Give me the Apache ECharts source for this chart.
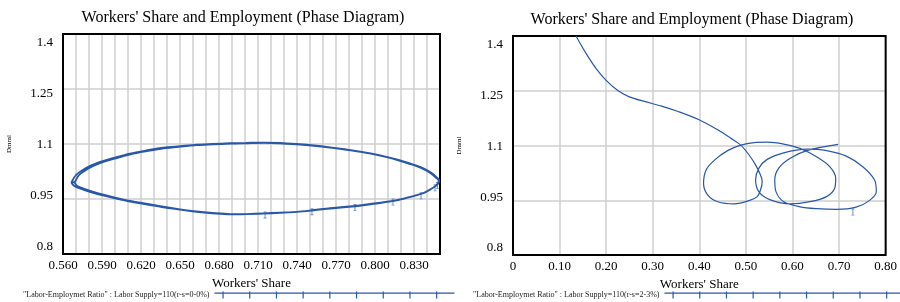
<!DOCTYPE html>
<html>
<head>
<meta charset="utf-8">
<title>Workers' Share and Employment (Phase Diagram)</title>
<script src="https://cdn.jsdelivr.net/npm/echarts@6/dist/echarts.min.js"></script>
<style>
    html, body { margin: 0; padding: 0; background: #fff; }
    #main { width: 900px; height: 302px; }
</style>
</head>
<body>
<div id="main"></div>
<script>
    var chartTitle = "Workers' Share and Employment (Phase Diagram)";
    var xName = "Workers' Share";
    var yName = 'Dmml';
    var nameA = '"Labor-Employmet Ratio" : Labor Supply=110(r-s=0-0%)';
    var nameB = '"Labor-Employmet Ratio" : Labor Supply=110(r-s=2-3%)';

    // tick labels
    var yTicks = ['0.8', '0.95', '1.1', '1.25', '1.4'];
    var xTicksA = ['0.560', '0.590', '0.620', '0.650', '0.680', '0.710', '0.740', '0.770', '0.800', '0.830'];
    var xTicksB = ['0', '0.10', '0.20', '0.30', '0.40', '0.50', '0.60', '0.70', '0.80'];

    // left chart: [workers' share, Dmml], two laps of the cycle
    var orbitLap1 = [
        [0.5665, 0.995], [0.5700, 1.015], [0.5780, 1.035], [0.5860, 1.048], [0.6000, 1.063],
        [0.6115, 1.074], [0.6250, 1.083], [0.6372, 1.090], [0.6500, 1.094], [0.6628, 1.098],
        [0.6750, 1.100], [0.6885, 1.102], [0.7010, 1.103], [0.7141, 1.104], [0.7270, 1.103],
        [0.7398, 1.100], [0.7530, 1.096], [0.7654, 1.091], [0.7780, 1.085], [0.7910, 1.078],
        [0.8040, 1.069], [0.8167, 1.058], [0.8270, 1.047], [0.8372, 1.034], [0.8430, 1.022],
        [0.8475, 1.009], [0.8495, 1.001], [0.8490, 0.995], [0.8475, 0.988], [0.8430, 0.977],
        [0.8372, 0.966], [0.8270, 0.956], [0.8167, 0.947], [0.8040, 0.940], [0.7910, 0.934],
        [0.7780, 0.929], [0.7654, 0.925], [0.7530, 0.920], [0.7398, 0.915], [0.7270, 0.913],
        [0.7141, 0.911], [0.7010, 0.909], [0.6885, 0.908], [0.6750, 0.911], [0.6628, 0.915],
        [0.6500, 0.921], [0.6372, 0.927], [0.6250, 0.935], [0.6115, 0.943], [0.6000, 0.952],
        [0.5859, 0.964], [0.5760, 0.975], [0.5690, 0.985], [0.5665, 0.995]
    ];
    var orbitLap2 = [
        [0.5688, 0.996], [0.5720, 1.014], [0.5795, 1.033], [0.5870, 1.046], [0.6005, 1.061],
        [0.6120, 1.072], [0.6255, 1.081], [0.6375, 1.088], [0.6505, 1.093], [0.6630, 1.097],
        [0.6755, 1.099], [0.6885, 1.101], [0.7010, 1.102], [0.7141, 1.103], [0.7270, 1.102],
        [0.7398, 1.099], [0.7530, 1.095], [0.7654, 1.090], [0.7780, 1.084], [0.7910, 1.077],
        [0.8040, 1.068], [0.8167, 1.057], [0.8265, 1.046], [0.8365, 1.033], [0.8425, 1.021],
        [0.8470, 1.008], [0.8490, 1.000], [0.8485, 0.994], [0.8470, 0.987], [0.8425, 0.976],
        [0.8365, 0.965], [0.8265, 0.955], [0.8167, 0.946], [0.8040, 0.939], [0.7910, 0.933],
        [0.7780, 0.928], [0.7654, 0.924], [0.7530, 0.919], [0.7398, 0.915], [0.7270, 0.912],
        [0.7141, 0.910], [0.7010, 0.909], [0.6885, 0.909], [0.6750, 0.912], [0.6628, 0.916],
        [0.6500, 0.922], [0.6372, 0.929], [0.6250, 0.937], [0.6115, 0.945], [0.6000, 0.954],
        [0.5865, 0.966], [0.5770, 0.977], [0.5705, 0.987], [0.5688, 0.996]
    ];
    var marksA = [
        [0.7154, 0.912], [0.7515, 0.921], [0.7846, 0.932], [0.8138, 0.947],
        [0.8354, 0.964], [0.8462, 0.986], [0.8480, 0.992]
    ];

    // right chart: [workers' share, Dmml]
    var pathB = [
        [0.1352, 1.400], [0.1565, 1.353], [0.1777, 1.312], [0.1989, 1.280], [0.2236, 1.252],
        [0.2484, 1.234], [0.2839, 1.220], [0.3191, 1.208], [0.3546, 1.193], [0.4006, 1.170],
        [0.4395, 1.143], [0.4677, 1.120], [0.4890, 1.101], [0.5068, 1.074], [0.5208, 1.047],
        [0.5314, 1.019], [0.5350, 1.001], [0.5314, 0.978], [0.5244, 0.960], [0.5068, 0.949],
        [0.4749, 0.940], [0.4395, 0.946], [0.4183, 0.964], [0.4091, 0.996], [0.4146, 1.033],
        [0.4325, 1.060], [0.4607, 1.086], [0.4890, 1.101], [0.5174, 1.108], [0.5456, 1.109],
        [0.5811, 1.104], [0.6163, 1.092], [0.6518, 1.069], [0.6800, 1.042], [0.6928, 1.010],
        [0.6907, 0.983], [0.6731, 0.960], [0.6376, 0.946], [0.5951, 0.940], [0.5527, 0.951],
        [0.5280, 0.973], [0.5208, 1.006], [0.5280, 1.038], [0.5456, 1.062], [0.5811, 1.080],
        [0.6306, 1.090], [0.6731, 1.086], [0.7155, 1.071], [0.7510, 1.042], [0.7760, 1.006],
        [0.7800, 0.973], [0.7650, 0.949], [0.7367, 0.931], [0.6943, 0.925], [0.6518, 0.927],
        [0.6163, 0.932], [0.5811, 0.946], [0.5648, 0.973], [0.5620, 1.006], [0.5705, 1.038],
        [0.5951, 1.065], [0.6306, 1.086], [0.6979, 1.103]
    ];
    var marksB = [[0.7297, 0.923]];

    var serif = "'Liberation Serif', 'DejaVu Serif', serif";
    var blue = '#2a58a8';
    var markBlue = '#4a78c0';
    var gridGray = '#cfcfcf';
    var tickSymbol = 'path://M0,0h3v1h-1v6h1v1h-3v-1h1v-6h-1z';

    // legend icon: line with little ticks
    var legendIcon = 'path://M0,1h240v1.2H0z';
    for (var i = 0; i < 9; i++) {
        var tx = 8 + i * 26.7;
        legendIcon += ' M' + tx + ',0h1.2v7h-1.2z';
    }

    function findTick(list, v) {
        for (var i = 0; i < list.length; i++) {
            if (Math.abs(parseFloat(list[i]) - v) < 1e-6) return i;
        }
        return -1;
    }

    // vensim puts its y labels a bit squeezed toward the middle
    var yRich = {
        l0: { padding: [0, 0, 14, 0] },
        l1: { padding: [0, 0, 6, 0] },
        l2: { padding: [2, 0, 0, 0] },
        l3: { padding: [10, 0, 0, 0] },
        l4: { padding: [18, 0, 0, 0] }
    };

    function yAxisCfg(idx) {
        return {
            type: 'value', gridIndex: idx,
            min: 0.8, max: 1.4, interval: 0.05,
            name: yName, nameLocation: 'middle', nameGap: 50, nameRotate: 90,
            nameTextStyle: { fontFamily: serif, fontSize: 7, color: '#000' },
            axisLine: { show: false },
            axisTick: { show: false },
            axisLabel: {
                margin: 10, fontFamily: serif, fontSize: 13, color: '#000',
                formatter: function (v) {
                    var k = findTick(yTicks, v);
                    return k < 0 ? '' : '{l' + k + '|' + yTicks[k] + '}';
                },
                rich: yRich
            },
            splitLine: {
                show: true,
                lineStyle: { color: [gridGray, 'rgba(0,0,0,0)', 'rgba(0,0,0,0)'], width: 1.5 }
            }
        };
    }

    function xAxisCfg(idx, min, max, step, ticks) {
        return {
            type: 'value', gridIndex: idx,
            min: min, max: max, interval: step,
            name: xName, nameLocation: 'middle', nameGap: 21,
            nameTextStyle: { fontFamily: serif, fontSize: 13, color: '#000' },
            axisLine: { show: false },
            axisTick: { show: false },
            axisLabel: {
                margin: 5, fontFamily: serif, fontSize: 13, color: '#000',
                showMinLabel: true, showMaxLabel: true,
                formatter: function (v) {
                    var k = findTick(ticks, v);
                    return k < 0 ? '' : ticks[k];
                }
            },
            splitLine: { show: true, lineStyle: { color: gridGray, width: 1.5 } }
        };
    }

    var myChart = echarts.init(document.getElementById('main'), null, { renderer: 'canvas' });
    var option = {
        animation: false,
        backgroundColor: '#fff',
        title: [
            { text: chartTitle, left: 238, top: 5, textAlign: 'center',
              textStyle: { fontFamily: serif, fontSize: 16, fontWeight: 'normal', color: '#000' } },
            { text: chartTitle, left: 687, top: 7, textAlign: 'center',
              textStyle: { fontFamily: serif, fontSize: 16, fontWeight: 'normal', color: '#000' } }
        ],
        legend: [
            { data: [nameA], left: 18, top: 286, align: 'right', icon: legendIcon,
              itemWidth: 240, itemHeight: 7, selectedMode: false,
              textStyle: { fontFamily: serif, fontSize: 8, color: '#222' } },
            { data: [nameB], left: 468, top: 286, align: 'right', icon: legendIcon,
              itemWidth: 240, itemHeight: 7, selectedMode: false,
              textStyle: { fontFamily: serif, fontSize: 8, color: '#222' } }
        ],
        grid: [
            { left: 63, top: 34, width: 377, height: 220, show: true, z: 1,
              borderColor: '#000', borderWidth: 2, backgroundColor: 'transparent' },
            { left: 513, top: 36, width: 377, height: 219, show: true, z: 1,
              borderColor: '#000', borderWidth: 2, backgroundColor: 'transparent' }
        ],
        xAxis: [
            xAxisCfg(0, 0.56, 0.85, 0.01, xTicksA),
            xAxisCfg(1, 0, 0.8, 0.1, xTicksB)
        ],
        yAxis: [yAxisCfg(0), yAxisCfg(1)],
        series: [
            {
                name: nameA, type: 'line', xAxisIndex: 0, yAxisIndex: 0,
                data: orbitLap1.concat(orbitLap2),
                showSymbol: false, smooth: 0.3, clip: true,
                lineStyle: { color: blue, width: 1.8 }, itemStyle: { color: blue }
            },
            {
                name: 'marksA', type: 'scatter', xAxisIndex: 0, yAxisIndex: 0,
                data: marksA, symbol: tickSymbol, symbolSize: [3, 7], symbolOffset: [0, 2],
                itemStyle: { color: markBlue }, silent: true
            },
            {
                name: nameB, type: 'line', xAxisIndex: 1, yAxisIndex: 1,
                data: pathB,
                showSymbol: false, smooth: 0.3, clip: true,
                lineStyle: { color: blue, width: 1.2 }, itemStyle: { color: blue }
            },
            {
                name: 'marksB', type: 'scatter', xAxisIndex: 1, yAxisIndex: 1,
                data: marksB, symbol: tickSymbol, symbolSize: [3, 7], symbolOffset: [0, 2],
                itemStyle: { color: markBlue }, silent: true
            }
        ]
    };
    myChart.setOption(option);
</script>
</body>
</html>
